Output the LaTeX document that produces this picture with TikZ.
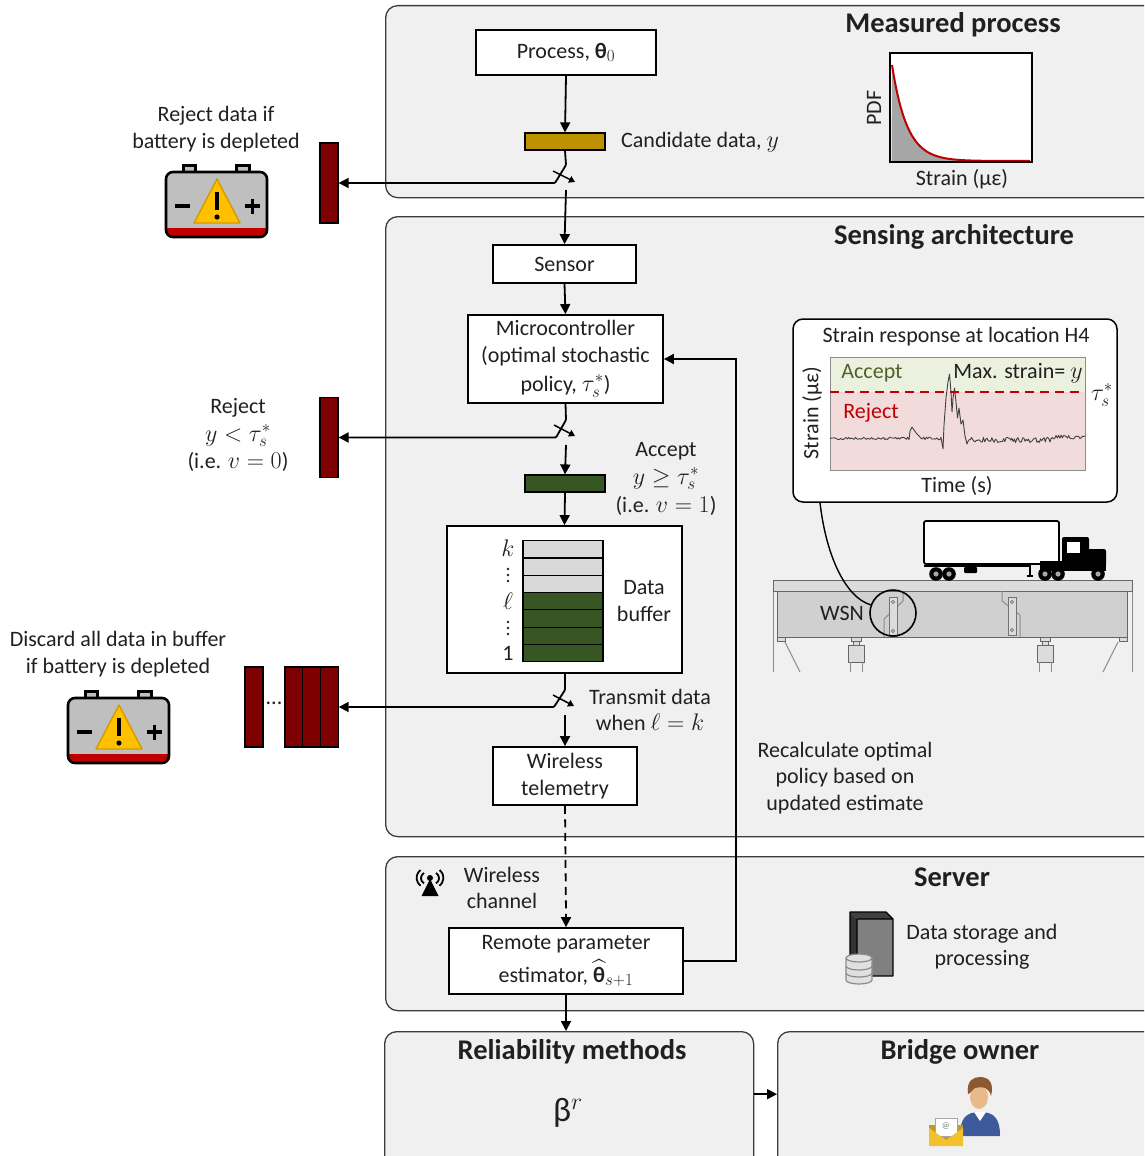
\RequirePackage{fix-cm}
\documentclass[tikz,border=0pt]{standalone}
\usepackage{amsmath,bm}
\usepackage{fontspec}
\setmainfont{Carlito}
\usetikzlibrary{arrows.meta,calc,shapes.geometric}
\DeclareMathSizes{22}{24}{17}{13}

\definecolor{panel}{HTML}{F0F0F0}
\definecolor{panelline}{HTML}{3C3C3C}
\definecolor{txt}{HTML}{202020}
\definecolor{gold}{HTML}{BF9000}
\definecolor{rejred}{HTML}{7F0000}
\definecolor{accgreen}{HTML}{375623}
\definecolor{slot}{HTML}{D9D9D9}
\definecolor{battgray}{HTML}{BFBFBF}
\definecolor{battred}{HTML}{C00000}
\definecolor{warnyellow}{HTML}{FFC000}
\definecolor{warnedge}{HTML}{D49A00}
\definecolor{pdfred}{HTML}{C00000}
\definecolor{pdfgray}{HTML}{A6A6A6}
\definecolor{bandgreen}{HTML}{EBF1DE}
\definecolor{bandred}{HTML}{F2DCDB}
\definecolor{labgreen}{HTML}{4F6228}
\definecolor{labred}{HTML}{C00000}
\definecolor{deckgray}{HTML}{DCDCDC}
\definecolor{girdgray}{HTML}{D0D0D0}
\definecolor{steel}{HTML}{8C8C8C}
\definecolor{skin}{HTML}{E9B98C}
\definecolor{hair}{HTML}{8A5A2E}
\definecolor{shirt}{HTML}{3F5A9A}
\definecolor{envyellow}{HTML}{F2C12E}

\newcommand{\txtsize}{\fontsize{22}{26.3}\selectfont}
\newcommand{\ttlsize}{\fontsize{28.5}{32}\selectfont\bfseries}
\newcommand{\btheta}{\textbf{θ}}

\tikzset{
  panelbox/.style={draw=panelline, line width=1.3pt, fill=panel, rounded corners=12pt, inner sep=0pt},
  whitebox/.style={draw=black, line width=1.8pt, fill=white, align=center, font=\txtsize, text=txt, inner sep=0pt},
  lbl/.style={align=center, font=\txtsize, text=txt, inner sep=0pt},
  ttl/.style={font=\ttlsize, text=txt, inner sep=0pt},
  arr/.style={line width=1.8pt, -{Triangle[length=10pt,width=10pt]}},
  swarr/.style={line width=1.5pt, -{Triangle[length=6pt,width=7pt]}},
  rejbar/.style={draw=black, line width=1.2pt, fill=rejred, minimum width=18pt, minimum height=80pt, inner sep=0pt},
  databar/.style={draw=black, line width=1.2pt, minimum width=80pt, minimum height=17pt, inner sep=0pt},
  cell/.style={draw=black, line width=1.2pt, minimum width=80pt, minimum height=17.3pt, inner sep=0pt},
  battery/.pic={
    \fill[black] (16,-8) rectangle (31,1);
    \fill[black] (69,-8) rectangle (85,1);
    \fill[battgray] (19,-5) rectangle (28,0);
    \fill[battgray] (72,-5) rectangle (82,0);
    \begin{scope}
      \clip[rounded corners=7pt] (0,0) rectangle (101,65);
      \fill[battgray] (0,0) rectangle (101,65);
      \fill[battred] (0,56) rectangle (101,65);
    \end{scope}
    \draw[black, line width=2.6pt, rounded corners=7pt] (0,0) rectangle (101,65);
    \draw[warnedge, fill=warnyellow, line width=1.4pt, line join=round] (28,51) -- (74,51) -- (51,7) -- cycle;
    \draw[black, line width=4.2pt] (51,20) -- (51,38);
    \fill[black] (51,45) circle (2.6);
    \draw[black, line width=3.4pt] (9,34) -- (24,34);
    \draw[black, line width=3.4pt] (79,34) -- (94,34) (86.5,26.5) -- (86.5,41.5);
  },
  vdot/.pic={
    \fill[txt] (0,-6) circle (1.4) (0,0) circle (1.4) (0,6) circle (1.4);
  },
}

\begin{document}
\begin{tikzpicture}[x=1pt,y=-1pt]
\path[use as bounding box] (0,0) rectangle (1144,1156);
\begin{scope}
\clip (0,0) rectangle (1144,1156);

% ---------- panels ----------
\node[panelbox, anchor=north west, minimum width=790pt, minimum height=192pt] (measured) at (385,5) {};
\node[panelbox, anchor=north west, minimum width=790pt, minimum height=620pt] (sensing) at (385,216) {};
\node[panelbox, anchor=north west, minimum width=790pt, minimum height=154pt] (server) at (385,856) {};
\node[panelbox, anchor=north west, minimum width=369pt, minimum height=150pt] (reliab) at (384,1031) {};
\node[panelbox, anchor=north west, minimum width=400pt, minimum height=150pt] (owner) at (777,1031) {};

\node[ttl] (tmeas) at (953,25) {Measured process};
\node[ttl] (tsens) at (954,237) {Sensing architecture};
\node[ttl] (tserv) at (952,877) {Server};
\node[ttl] (trel) at (572,1052) {Reliability methods};
\node[ttl] (town) at (960,1052) {Bridge owner};

% ---------- measured process ----------
\node[whitebox, minimum width=180pt, minimum height=45pt] (proc) at (566,52.5) {Process, \btheta$_0$};
\node[databar, fill=gold] (cand) at (565,141.5) {};
\node[lbl, anchor=west] (candlbl) at (621,142) {Candidate data, $y$};

% PDF of strain
\draw[black, line width=2pt, fill=white] (890,53) rectangle (1032,162);
\fill[pdfgray] (891.5,161) -- plot[domain=892:1030, samples=80] (\x,{161-96*exp(-(\x-892)/15)}) -- (1030,161) -- cycle;
\draw[pdfred, line width=2pt] plot[domain=892:1030, samples=80] (\x,{161-96*exp(-(\x-892)/15)});
\draw[black, line width=2pt] (890,53) rectangle (1032,162);
\node[lbl, rotate=90] (pdflbl) at (874,108) {PDF};
\node[lbl] (pdfx) at (962,179) {Strain (με)};

% rejection of candidate data
\node[rejbar] (bar1) at (329,183) {};
\pic at (166,172) {battery};
\node[lbl] (batt1lbl) at (216,129) {Reject data if\\battery is depleted};

\coordinate (s1a) at (566,165);
\coordinate (s1b) at (555,183);
\coordinate (s1c) at (553,171);
\coordinate (s1d) at (575,182);
\coordinate (s1o) at (566,190);
\draw[arr] (proc.south) -- (cand.north);
\draw[arr, rounded corners=1pt] (cand.south) -- (s1a) -- (s1b) -- (bar1.east);
\draw[swarr] (s1c) -- (s1d);

% ---------- sensing architecture ----------
\node[whitebox, minimum width=143pt, minimum height=38pt] (sensor) at (564.5,264) {Sensor};
\draw[arr] (s1o) -- (sensor.north);
\node[whitebox, minimum width=195pt, minimum height=88pt] (mcu) at (565.5,359)
  {Microcontroller\\(optimal stochastic\\[3pt]policy, $\tau_s^*$)};
\draw[arr] (sensor.south) -- (mcu.north);

\node[rejbar] (bar2) at (329,437.5) {};
\node[lbl] (rejlbl) at (238,435) {Reject\\[1pt]$y<\tau_s^*$\\[1pt](i.e. $v=0$)};

\coordinate (s2a) at (566,420);
\coordinate (s2b) at (556,437.5);
\coordinate (s2c) at (554,425);
\coordinate (s2d) at (575,436);
\coordinate (s2o) at (566,445);
\draw[arr, rounded corners=1pt] (mcu.south) -- (s2a) -- (s2b) -- (bar2.east);
\draw[swarr] (s2c) -- (s2d);

\node[databar, fill=accgreen] (accbar) at (565,483.5) {};
\draw[arr] (s2o) -- (accbar.north);
\node[lbl] (acclbl) at (666,479) {Accept\\[1pt]$y\ge\tau_s^*$\\[2pt](i.e. $v=1$)};

% data buffer
\node[whitebox, minimum width=235pt, minimum height=147pt] (buffer) at (564.5,599.5) {};
\draw[arr] (accbar.south) -- (buffer.north);
\foreach \i/\c in {0/slot,1/slot,2/slot,3/accgreen,4/accgreen,5/accgreen,6/accgreen}{
  \node[cell, fill=\c, anchor=north] (cell\i) at (563,{540+17.3*\i}) {};
}
\node[lbl] (bk) at (508,548) {$k$};
\pic at (508,575) {vdot};
\node[lbl] (bl) at (508,601) {$\ell$};
\pic at (508,628) {vdot};
\node[lbl] (b1) at (508,653) {1};
\node[lbl] (buflbl) at (644,601) {Data\\buffer};

% discard of the whole buffer
\node[rejbar] (bar3s) at (254,707) {};
\node[lbl] (bardots) at (274,703) {...};
\node[rejbar, minimum width=17.7pt] (bar3a) at (293.85,707) {};
\node[rejbar, minimum width=17.7pt] (bar3b) at (311.55,707) {};
\node[rejbar, minimum width=17.7pt] (bar3c) at (329.25,707) {};
\pic at (68,698) {battery};
\node[lbl] (batt2lbl) at (118,654) {Discard all data in buffer\\if battery is depleted};

\coordinate (s3a) at (565,690);
\coordinate (s3b) at (554,707);
\coordinate (s3c) at (553,695);
\coordinate (s3d) at (574,706);
\coordinate (s3o) at (565,715);
\draw[arr, rounded corners=1pt] (buffer.south -| s3a) -- (s3a) -- (s3b) -- (bar3c.east);
\draw[swarr] (s3c) -- (s3d);
\node[lbl] (txlbl) at (650,710) {Transmit data\\when $\ell=k$};

\node[whitebox, minimum width=144pt, minimum height=58pt] (telem) at (565,776) {Wireless\\telemetry};
\draw[arr] (s3o) -- (telem.north);

\node[lbl] (recalc) at (845,778) {Recalculate optimal\\policy based on\\updated estimate};

% strain response inset
\node[draw=black, line width=1.5pt, fill=white, rounded corners=10pt, minimum width=324pt, minimum height=183pt, inner sep=0pt] (resp) at (955,410.5) {};
\node[lbl] (resptitle) at (956,337) {Strain response at location H4};
\fill[bandgreen] (830,357) rectangle (1085,392);
\fill[bandred] (830,392) rectangle (1085,470);
\draw[steel, line width=1pt] (830,357) rectangle (1085,470);
\node[lbl, text=labgreen] (acctag) at (872,373) {Accept};
\node[lbl, text=labred] (rejtag) at (871,413) {Reject};
\node[lbl] (maxlbl) at (1018,373) {Max. strain= $y$};
\pgfmathsetseed{11}
\draw[black!75, line width=0.9pt, line join=round]
  plot[domain=830:909, samples=60] (\x,{438.5+1.3*rand})
  -- (910,431) -- (912,427) -- (914,430) -- (917,434) -- (920,437)
  -- plot[domain=921:941, samples=16] (\x,{438.5+1.4*rand})
  -- (943,449) -- (944,425) -- (946,398) -- (948,382) -- (949.5,374) -- (951,392) -- (952,412)
  -- (953,398) -- (954.5,388) -- (956,402) -- (957.5,418) -- (959,408) -- (961,424)
  -- (963,420) -- (965,436) -- (967,444)
  -- plot[domain=968:1050, samples=70] (\x,{440+2.6*rand})
  -- plot[domain=1051:1085, samples=28] (\x,{437+2.2*rand});
\draw[labred, line width=2.2pt, dash pattern=on 9pt off 6pt] (830,392) -- (1085,392);
\node[lbl] (taulbl) at (1102,395) {$\tau_s^*$};
\node[lbl, rotate=90] (respy) at (812,413) {Strain (με)};
\node[lbl] (respx) at (957,486) {Time (s)};

% bridge with truck
\draw[steel, line width=1pt] (773,591) -- (773,672);
\draw[steel, line width=1pt] (1132,591) -- (1132,672);
\draw[steel, line width=1pt] (785,642) -- (800,672);
\draw[steel, line width=1pt] (1118,642) -- (1103,672);
\draw[black!60, line width=1pt, fill=deckgray] (773,580) rectangle (1132,591);
\draw[black!60, line width=1pt, fill=girdgray] (777,591) rectangle (1127,637);
\draw[black!60, line width=0.8pt, fill=deckgray] (777,637) rectangle (785,641);
\draw[black!60, line width=0.8pt, fill=deckgray] (1119,637) rectangle (1127,641);
\foreach \bx in {856,1045}{
  \draw[black!60, line width=0.8pt, fill=deckgray] (\bx-5,637) rectangle (\bx+5,641);
  \draw[black!60, line width=0.8pt, fill=deckgray] (\bx-3,641) rectangle (\bx+3,645);
  \draw[black!60, line width=0.8pt, fill=deckgray] (\bx-8,645) rectangle (\bx+8,662);
  \draw[steel, line width=1pt] (\bx-6,662) -- (\bx-6,672) (\bx+6,662) -- (\bx+6,672);
}
% web stiffeners with sensor plates
\draw[steel, line width=1pt] (903,591) -- (903,601) -- (884,619) -- (884,637);
\draw[steel, line width=1pt] (1002,591) -- (1002,601) -- (1020,615) -- (1020,637);
\draw[black!55, line width=0.8pt, fill=deckgray] (889,597) rectangle (897,636);
\draw[black!55, line width=0.8pt, fill=deckgray] (1008,597) rectangle (1016,635);
\foreach \px/\py in {893/602,893/631,1012/602,1012/630}{
  \draw[black!55, line width=0.6pt] (\px,\py) circle (1.6);
}
\node[circle, draw=black, line width=1.6pt, minimum size=46pt, inner sep=0pt] (wsn) at (893,613) {};
\node[lbl] (wsnlbl) at (842,613) {WSN};
\draw[line width=1.4pt] ([xshift=-135pt]resp.south) .. controls (826,555) and (845,597) .. (wsn.160);

% truck
\draw[black, line width=1.8pt, fill=white, rounded corners=2pt] (924,521) rectangle (1059,564);
\draw[black, line width=1.5pt] (924,566) -- (1030,566);
\fill[black, rounded corners=1pt] (964,567) rectangle (977,573);
\draw[black, line width=1.5pt] (1030,565) -- (1030,575) (1027,576) -- (1033,576);
\fill[black] (1040,561) rectangle (1106,571);
\fill[black, rounded corners=2pt] (1062,537) rectangle (1089,563);
\fill[black, rounded corners=2pt] (1087,549) rectangle (1106,566);
\fill[white] (1067,542) rectangle (1080,553);
\draw[black, line width=2pt] (1059,533) -- (1059,562);
\foreach \wx in {936,949,1045,1058,1098}{
  \fill[black] (\wx,574) circle (6.8);
  \fill[black!35] (\wx,574) circle (2.6);
}

% feedback to the microcontroller
\coordinate (fbbot) at (736,961);
\coordinate (fbtop) at (736,359);

% ---------- server ----------
\node[whitebox, minimum width=234pt, minimum height=66pt] (est) at (566,961)
  {Remote parameter\\[7pt]estimator, $\widehat{\text{\btheta}}_{s+1}$};
\draw[line width=1.8pt, dash pattern=on 8pt off 5.5pt] (telem.south) -- ([yshift=12pt]est.north);
\draw[arr] ([yshift=13pt]est.north) -- (est.north);
\draw[arr] (est.east) -- (fbbot) -- (fbtop) -- (mcu.east);

% antenna
\begin{scope}[shift={(430,888)}]
  \fill[black] (-8.5,8) -- (8.5,8) -- (0,-9) -- cycle;
  \fill[black] (0,-10) circle (3);
  \draw[black, line width=1.8pt] (-6,-15) arc[start angle=-120, end angle=-240, radius=6] ;
  \draw[black, line width=1.8pt] (6,-15) arc[start angle=-60, end angle=60, radius=6];
  \draw[black, line width=1.8pt] (-9.5,-18) arc[start angle=-128, end angle=-232, radius=10];
  \draw[black, line width=1.8pt] (9.5,-18) arc[start angle=-52, end angle=52, radius=10];
\end{scope}
\node[lbl] (chanlbl) at (502,888) {Wireless\\channel};

% server tower and storage
\fill[black!75] (850,912) -- (886,912) -- (893,919) -- (857,919) -- cycle;
\fill[black!80] (850,912) -- (857,919) -- (857,976) -- (850,969) -- cycle;
\fill[black!50] (857,919) rectangle (893,976);
\draw[black, line width=1.4pt, line join=round] (850,912) -- (886,912) -- (893,919) -- (893,976) -- (857,976) -- (850,969) -- cycle (857,919) -- (857,976) (857,919) -- (893,919);
\begin{scope}[shift={(859,958)}]
  \draw[black!45, line width=1.2pt, fill=black!12] (-13,0) -- (-13,22) arc[start angle=180, end angle=360, x radius=13, y radius=-4] -- (13,0);
  \draw[black!45, line width=1.2pt, fill=black!12] (0,0) ellipse (13 and 4);
  \draw[black!45, line width=1.2pt] (-13,8) arc[start angle=180, end angle=360, x radius=13, y radius=-4];
  \draw[black!45, line width=1.2pt] (-13,15) arc[start angle=180, end angle=360, x radius=13, y radius=-4];
\end{scope}
\node[lbl] (storlbl) at (982,947) {Data storage and\\processing};

% ---------- reliability and owner ----------
\draw[arr] (est.south) -- (reliab.north -| est.south);
\node[inner sep=0pt, text=txt] (beta) at (568,1113) {\fontsize{34}{38}\selectfont β$^{r}$};
\draw[arr] ([yshift=12.5pt]reliab.east) -- ([yshift=12.5pt]owner.west);

% owner: person and mail
\fill[shirt] (960,1136) .. controls (960,1118) and (966,1112) .. (980,1112) .. controls (994,1112) and (1000,1118) .. (1000,1136) -- cycle;
\fill[white] (974,1112) -- (986,1112) -- (980,1121) -- cycle;
\fill[skin] (979,1097) ellipse (9 and 12);
\fill[hair] (968,1094) .. controls (966,1080) and (974,1077) .. (980,1077) .. controls (990,1077) and (994,1084) .. (991,1096) .. controls (989,1088) and (984,1086) .. (975,1088) .. controls (972,1090) and (970,1094) .. (968,1094) -- cycle;
\fill[envyellow!80!black] (929,1125) rectangle (963,1146);
\fill[white] (935,1118) rectangle (957,1136);
\draw[black!35, line width=0.7pt] (935,1118) rectangle (957,1136);
\node[inner sep=0pt, text=black!50, font=\fontsize{9}{10}\selectfont] (at) at (946,1126) {@};
\fill[envyellow] (929,1128) -- (946,1140) -- (963,1128) -- (963,1146) -- (929,1146) -- cycle;
\end{scope}
\end{tikzpicture}
\end{document}
